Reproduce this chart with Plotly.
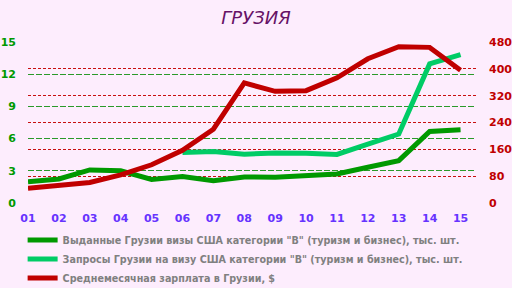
import plotly.graph_objects as go

years = list(range(1, 16))
year_labels = ["01", "02", "03", "04", "05", "06", "07", "08", "09", "10", "11", "12", "13", "14", "15"]

visas_issued = [1.99, 2.24, 3.08, 3.0, 2.2, 2.46, 2.08, 2.43, 2.4, 2.59, 2.71, 3.33, 3.95, 6.66, 6.82]
visa_requests = [None, None, None, None, None, 4.7, 4.8, 4.55, 4.67, 4.64, 4.52, 5.48, 6.42, 12.96, 13.83]
salary = [44, 52, 61, 84, 114, 157, 220, 358, 333, 335, 373, 430, 466, 464, 396]

names = [
    'Выданные Грузии визы США категории "B" (туризм и бизнес), тыс. шт.',
    'Запросы Грузии на визу США категории "B" (туризм и бизнес), тыс. шт.',
    'Среднемесячная зарплата в Грузии, $',
]

bg = "#FDEDFD"
fig = go.Figure()
fig.add_trace(go.Scatter(x=years, y=visas_issued, name=names[0], mode="lines",
                         line=dict(color="#009900", width=5), yaxis="y"))
fig.add_trace(go.Scatter(x=years, y=visa_requests, name=names[1], mode="lines",
                         line=dict(color="#00CC66", width=5), yaxis="y"))
fig.add_trace(go.Scatter(x=years, y=salary, name=names[2], mode="lines",
                         line=dict(color="#C00000", width=5), yaxis="y2"))

fig.update_layout(
    width=512, height=288,
    paper_bgcolor=bg, plot_bgcolor=bg,
    margin=dict(l=28, r=36, t=42, b=85, autoexpand=False),
    font=dict(family="DejaVu Sans"),
    title=dict(text="<i>ГРУЗИЯ</i>", x=0.5, xanchor="center", y=0.94, yanchor="middle",
               font=dict(size=18, color="#661166", family="DejaVu Sans")),
    xaxis=dict(range=[1, 15.5], tickmode="array", tickvals=years, ticktext=year_labels,
               showgrid=False, zeroline=False, showline=False, ticks="",
               ticklabelstandoff=7,
               tickfont=dict(color="#6633FF", size=11, family="DejaVu Sans", weight="bold")),
    yaxis=dict(range=[0, 15], dtick=3, tick0=0, showgrid=True, gridcolor="#2A9A2A",
               griddash="6px,2px", gridwidth=1, zeroline=False, showline=False, ticks="",
               ticklabelstandoff=11,
               tickfont=dict(color="#009900", size=11, family="DejaVu Sans", weight="bold")),
    yaxis2=dict(range=[0, 480], dtick=80, tick0=0, overlaying="y", side="right",
                showgrid=True, gridcolor="#C81010", griddash="3px,2px", gridwidth=1,
                zeroline=False, showline=False, ticks="", ticklabelstandoff=12,
                tickfont=dict(color="#C00000", size=11, family="DejaVu Sans", weight="bold")),
    legend=dict(x=-0.012, xanchor="left", y=-0.14, yanchor="top", orientation="v",
                bgcolor="rgba(0,0,0,0)", tracegroupgap=0,
                font=dict(color="#808080", size=9.6, family="DejaVu Sans", weight="bold")),
    showlegend=True,
)

fig.write_html("out.html")
